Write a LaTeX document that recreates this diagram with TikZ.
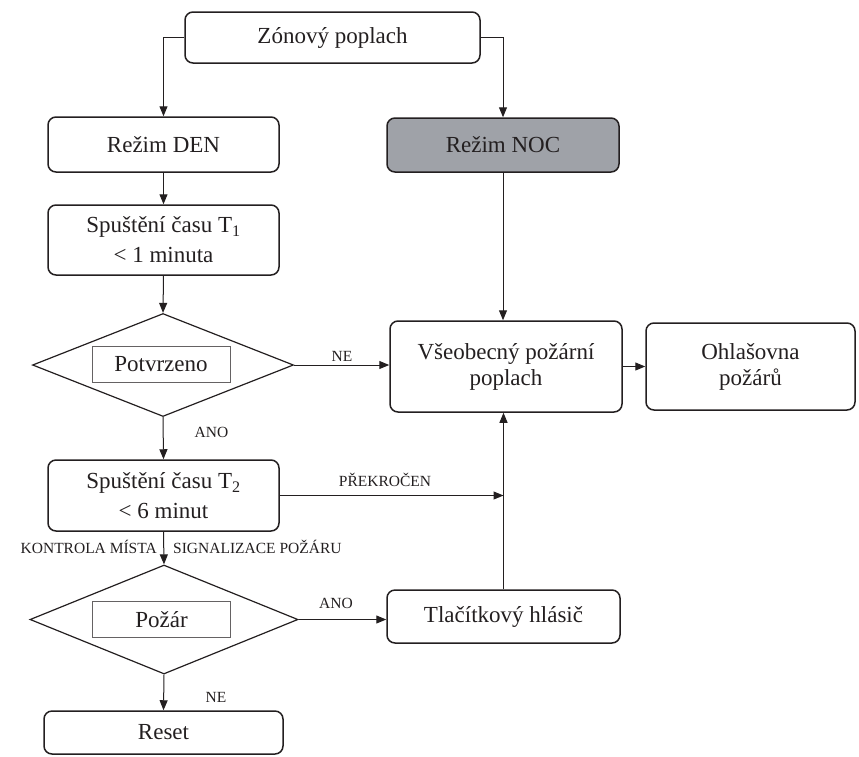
\documentclass[tikz,border=0pt]{standalone}
\usepackage{fontspec}
\setmainfont{Liberation Serif}
\usetikzlibrary{arrows.meta,shapes.geometric}
\definecolor{ink}{HTML}{231F20}
\definecolor{nightgray}{HTML}{9FA2A8}
\begin{document}
\begin{tikzpicture}[x=1pt,y=-1pt,
  font=\fontsize{23}{30}\selectfont,
  every node/.style={text=ink},
  box/.style={draw=ink,line width=1.5pt,rounded corners=8pt,align=center,inner sep=0pt},
  decision/.style={draw=ink,line width=1.2pt,diamond,inner sep=0pt},
  innerbox/.style={draw=ink!70,line width=1pt,inner sep=0pt,minimum width=138pt,minimum height=36pt},
  arr/.style={draw=ink,line width=1pt,-{Triangle[length=10pt,width=8pt]}},
  lbl/.style={font=\fontsize{15.5}{18}\selectfont,inner sep=0pt}]
\useasboundingbox (0,0) rectangle (859,756);

% boxes of the flow
\node[box,minimum width=295pt,minimum height=51pt] (zon) at (332.5,37.5) {Zónový poplach};
\node[box,minimum width=231pt,minimum height=55pt] (den) at (163.5,144.5) {Režim DEN};
\node[box,fill=nightgray,minimum width=232pt,minimum height=54pt] (noc) at (503,145) {Režim NOC};
\node[box,minimum width=231pt,minimum height=70pt] (t1) at (163.5,240) {Spuštění času T\textsubscript{1}\\< 1 minuta};

\node[decision,minimum width=261pt,minimum height=103pt] (d1) at (163,365) {};
\node[innerbox] (d1box) at (161,364.5) {Potvrzeno};

\node[box,minimum width=232pt,minimum height=91pt,font=\fontsize{23}{26}\selectfont] (vs) at (506,366.5) {Všeobecný požární\\poplach};
\node[box,minimum width=209pt,minimum height=87pt,font=\fontsize{23}{26}\selectfont] (ohl) at (750.5,366.5) {Ohlašovna\\požárů};

\node[box,minimum width=231pt,minimum height=71pt] (t2) at (163.5,495.5) {Spuštění času T\textsubscript{2}\\< 6 minut};

\node[decision,minimum width=268pt,minimum height=109pt] (d2) at (164,619.5) {};
\node[innerbox] (d2box) at (161.5,619.5) {Požár};

\node[box,minimum width=233pt,minimum height=53pt] (tl) at (503.5,616.5) {Tlačítkový hlásič};
\node[box,minimum width=239pt,minimum height=43pt] (reset) at (163.5,732.5) {Reset};

\coordinate (jn) at (tl.north |- t2.east);

% connectors
\draw[arr] (zon.west) -| (den.north);
\draw[arr] (zon.east) -| (noc.north);
\draw[arr] (den.south) -- (t1.north);
\draw[arr] (t1.south) -- (d1.north);
\draw[arr] (d1.east) -- (d1.east -| vs.west);
\draw[arr] (noc.south) -- (noc.south |- vs.north);
\draw[arr] (vs.east) -- (vs.east -| ohl.west);
\draw[arr] (d1.south) -- (t2.north);
\draw[arr] (t2.east) -- (jn);
\draw[arr] (t2.south) -- (d2.north);
\draw[arr] (d2.east) -- (d2.east -| tl.west);
\draw[arr] (tl.north) -- (tl.north |- vs.south);
\draw[arr] (d2.south) -- (reset.north);

% branch labels
\node[lbl] (lne1) at (342,356) {NE};
\node[lbl] (lano1) at (211.5,432) {ANO};
\node[lbl] (lprek) at (385,480) {PŘEKROČEN};
\node[lbl,anchor=east] (lkon) at (157,547) {KONTROLA MÍSTA};
\node[lbl,anchor=west] (lsig) at (173,547) {SIGNALIZACE POŽÁRU};
\node[lbl] (lano2) at (336,603) {ANO};
\node[lbl] (lne2) at (216,697) {NE};
\end{tikzpicture}
\end{document}
